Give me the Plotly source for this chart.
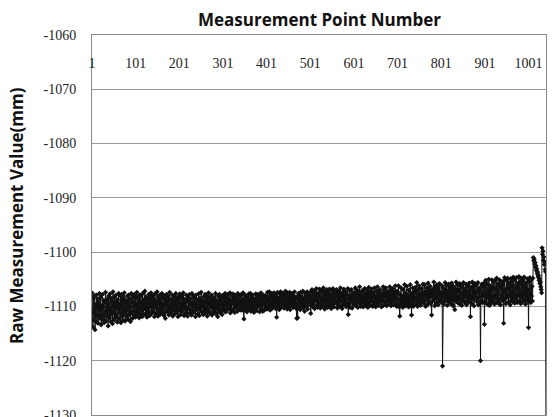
import plotly.graph_objects as go

values = [
-1107.5,-1111.2,-1113.8,-1108.4,-1110.9,-1112.6,-1108.0,-1114.3,-1109.7,-1111.8,-1107.9,-1112.9,-1110.2,-1108.6,-1113.1,-1109.4,-1111.5,-1107.6,-1112.2,-1110.6,
-1108.3,-1113.4,-1109.9,-1111.7,-1107.8,-1112.4,-1110.1,-1108.9,-1113.0,-1109.2,-1111.3,-1107.4,-1112.7,-1110.8,-1108.7,-1111.9,-1109.5,-1113.6,-1108.1,-1110.4,
-1112.1,-1107.7,-1110.7,-1112.8,-1108.5,-1111.4,-1109.1,-1113.2,-1107.3,-1111.0,-1109.8,-1112.5,-1108.2,-1110.3,-1112.0,-1107.9,-1111.6,-1109.3,-1112.9,-1108.8,
-1110.5,-1107.6,-1112.3,-1109.6,-1111.1,-1108.0,-1113.0,-1110.0,-1107.8,-1111.8,-1109.0,-1112.6,-1108.4,-1110.9,-1107.5,-1111.3,-1112.7,-1108.9,-1110.2,-1109.4,
-1111.9,-1108.1,-1110.6,-1112.4,-1107.9,-1109.7,-1111.5,-1108.6,-1112.8,-1110.1,-1107.6,-1111.0,-1109.2,-1112.2,-1108.3,-1110.8,-1111.7,-1107.8,-1109.9,-1112.0,
-1108.2,-1110.9,-1111.8,-1107.4,-1109.6,-1111.2,-1108.5,-1110.3,-1112.1,-1107.9,-1109.1,-1111.5,-1108.0,-1110.7,-1109.4,-1111.9,-1107.6,-1110.0,-1111.3,-1108.8,
-1110.4,-1107.2,-1109.8,-1111.6,-1108.3,-1110.6,-1112.0,-1108.7,-1109.3,-1111.1,-1107.8,-1110.2,-1111.7,-1108.4,-1109.9,-1107.5,-1111.4,-1109.0,-1110.8,-1108.1,
-1111.0,-1108.6,-1109.5,-1111.9,-1107.7,-1110.1,-1108.9,-1111.3,-1109.7,-1107.3,-1110.5,-1111.8,-1108.2,-1109.2,-1110.9,-1107.9,-1111.5,-1108.5,-1110.3,-1109.6,
-1107.6,-1110.8,-1111.2,-1108.4,-1109.8,-1111.7,-1108.0,-1110.0,-1112.2,-1108.7,-1109.4,-1107.8,-1111.0,-1109.1,-1110.6,-1108.3,-1111.6,-1109.9,-1107.4,-1110.4,
-1111.3,-1108.8,-1109.6,-1110.9,-1107.9,-1111.8,-1108.5,-1109.2,-1110.7,-1108.1,-1111.4,-1109.7,-1107.6,-1110.2,-1111.1,-1108.6,-1109.0,-1111.9,-1108.2,-1110.5,
-1109.3,-1107.7,-1110.8,-1111.5,-1108.4,-1109.9,-1111.0,-1108.0,-1110.3,-1107.5,-1109.6,-1111.7,-1108.7,-1110.1,-1109.2,-1111.3,-1107.9,-1110.6,-1108.9,-1111.8,
-1108.3,-1110.4,-1109.1,-1107.8,-1111.2,-1108.6,-1110.7,-1109.4,-1111.6,-1107.6,-1109.8,-1110.9,-1108.1,-1111.1,-1109.5,-1108.4,-1110.2,-1111.9,-1107.9,-1109.7,
-1110.6,-1108.8,-1111.4,-1109.0,-1107.7,-1110.3,-1111.7,-1108.5,-1109.6,-1110.8,-1107.4,-1111.0,-1108.9,-1110.0,-1109.3,-1111.5,-1108.2,-1109.9,-1110.7,-1107.8,
-1111.2,-1109.1,-1108.0,-1110.5,-1111.8,-1108.6,-1109.7,-1107.5,-1110.9,-1109.2,-1111.3,-1108.3,-1110.1,-1109.8,-1107.9,-1111.6,-1108.7,-1110.4,-1109.0,-1111.0,
-1108.4,-1110.7,-1109.5,-1107.6,-1111.4,-1108.9,-1110.2,-1109.3,-1111.9,-1108.1,-1109.8,-1110.6,-1107.8,-1111.1,-1109.0,-1108.5,-1110.8,-1109.6,-1111.5,-1108.2,
-1107.9,-1110.3,-1109.1,-1108.4,-1110.9,-1107.6,-1109.7,-1111.0,-1108.2,-1109.4,-1110.6,-1107.8,-1109.9,-1108.7,-1110.4,-1109.2,-1107.5,-1111.2,-1108.9,-1109.6,
-1110.8,-1108.1,-1109.3,-1107.7,-1110.5,-1109.0,-1108.5,-1111.1,-1107.9,-1109.8,-1110.2,-1108.3,-1109.5,-1110.9,-1107.6,-1109.1,-1108.8,-1110.6,-1109.7,-1108.0,
-1109.4,-1110.7,-1107.8,-1108.9,-1110.1,-1109.2,-1107.5,-1110.8,-1112.3,-1108.6,-1109.9,-1107.9,-1110.4,-1108.2,-1109.6,-1111.0,-1108.4,-1109.1,-1110.5,-1107.7,
-1108.8,-1110.2,-1109.5,-1107.6,-1110.9,-1108.1,-1109.3,-1110.6,-1107.9,-1109.8,-1108.5,-1111.1,-1108.9,-1109.0,-1110.3,-1107.7,-1109.6,-1108.3,-1110.8,-1109.2,
-1107.8,-1110.0,-1108.7,-1109.9,-1111.0,-1108.2,-1109.4,-1107.5,-1110.5,-1108.8,-1109.7,-1110.9,-1107.9,-1109.1,-1108.4,-1110.7,-1109.5,-1108.0,-1110.2,-1109.3,
-1108.3,-1110.5,-1107.4,-1108.9,-1110.1,-1108.6,-1107.3,-1109.6,-1110.7,-1108.0,-1109.3,-1109.8,-1107.6,-1108.7,-1110.3,-1108.2,-1109.5,-1107.5,-1110.0,-1108.4,
-1109.2,-1110.4,-1107.8,-1112.0,-1109.0,-1107.4,-1109.9,-1108.5,-1109.4,-1110.6,-1107.7,-1108.8,-1107.3,-1110.2,-1108.3,-1109.6,-1110.1,-1107.6,-1109.1,-1108.0,
-1110.3,-1108.6,-1108.9,-1107.2,-1109.8,-1108.1,-1109.5,-1110.5,-1107.5,-1108.7,-1108.3,-1110.0,-1109.2,-1107.4,-1110.6,-1107.9,-1109.0,-1109.7,-1108.4,-1107.6,
-1109.3,-1110.2,-1108.0,-1108.8,-1107.3,-1109.9,-1108.5,-1109.4,-1110.4,-1112.2,-1108.2,-1112.1,-1108.7,-1107.6,-1110.1,-1107.8,-1109.1,-1110.6,-1107.4,-1109.5,
-1108.3,-1109.8,-1108.9,-1107.2,-1110.3,-1108.6,-1109.2,-1110.9,-1107.5,-1109.6,-1108.1,-1110.0,-1108.8,-1107.3,-1110.5,-1107.9,-1109.4,-1109.7,-1108.4,-1109.0,
-1107.4,-1111.3,-1108.2,-1109.6,-1106.9,-1108.8,-1110.1,-1107.5,-1109.2,-1108.0,-1110.4,-1107.1,-1109.0,-1108.5,-1106.7,-1109.8,-1108.3,-1110.2,-1107.6,-1109.4,
-1108.1,-1106.8,-1109.7,-1110.3,-1107.3,-1108.9,-1109.5,-1107.0,-1110.0,-1108.4,-1106.6,-1109.3,-1107.8,-1110.5,-1108.7,-1107.2,-1109.9,-1108.0,-1106.9,-1109.1,
-1110.2,-1107.5,-1108.6,-1109.4,-1106.8,-1109.8,-1107.9,-1108.3,-1110.4,-1107.1,-1109.0,-1108.5,-1106.7,-1109.6,-1110.1,-1107.7,-1108.9,-1107.3,-1109.3,-1108.1,
-1106.9,-1109.5,-1110.3,-1107.6,-1108.8,-1109.9,-1107.2,-1108.4,-1110.0,-1106.6,-1109.1,-1107.9,-1108.6,-1110.4,-1107.4,-1109.7,-1108.2,-1106.8,-1109.2,-1108.0,
-1109.8,-1107.3,-1108.7,-1110.1,-1107.8,-1109.4,-1106.7,-1111.5,-1108.5,-1109.6,-1107.0,-1110.2,-1108.1,-1109.0,-1106.9,-1108.9,-1110.3,-1107.5,-1109.3,-1108.3,
-1107.5,-1109.7,-1108.2,-1106.6,-1109.8,-1107.8,-1109.3,-1107.0,-1108.6,-1110.2,-1107.4,-1108.9,-1108.4,-1106.4,-1109.5,-1107.7,-1110.0,-1108.0,-1107.2,-1109.1,
-1108.7,-1110.1,-1106.9,-1109.4,-1108.1,-1106.7,-1108.8,-1109.9,-1107.6,-1108.3,-1109.6,-1107.1,-1110.2,-1107.8,-1106.5,-1109.2,-1108.5,-1107.3,-1109.8,-1108.0,
-1109.0,-1106.8,-1108.4,-1110.0,-1107.5,-1109.3,-1107.9,-1106.6,-1109.7,-1108.2,-1110.1,-1107.2,-1108.7,-1109.5,-1106.4,-1108.1,-1109.8,-1107.4,-1108.9,-1108.5,
-1106.9,-1109.3,-1107.7,-1110.1,-1107.6,-1108.5,-1109.0,-1106.4,-1109.8,-1108.2,-1107.0,-1109.5,-1107.9,-1106.6,-1109.1,-1109.9,-1107.5,-1108.3,-1108.7,-1107.2,
-1109.6,-1107.9,-1106.4,-1109.3,-1107.7,-1109.9,-1107.0,-1108.5,-1109.1,-1106.7,-1108.0,-1109.7,-1107.3,-1108.8,-1108.2,-1106.2,-1109.5,-1107.6,-1110.0,-1107.2,
-1107.3,-1109.6,-1106.2,-1108.7,-1110.1,-1111.8,-1107.8,-1109.2,-1106.6,-1109.8,-1108.1,-1108.5,-1110.2,-1106.9,-1109.0,-1109.4,-1106.0,-1108.3,-1109.9,-1107.6,
-1108.7,-1106.3,-1109.6,-1107.9,-1109.1,-1110.1,-1107.0,-1108.5,-1109.9,-1106.0,-1108.1,-1109.4,-1111.6,-1107.6,-1108.8,-1106.6,-1110.0,-1107.3,-1108.3,-1109.7,
-1106.5,-1108.8,-1107.2,-1109.6,-1105.6,-1108.4,-1110.0,-1107.0,-1108.7,-1106.2,-1109.3,-1107.8,-1108.0,-1109.8,-1106.7,-1108.5,-1107.4,-1109.1,-1105.9,-1108.2,
-1109.4,-1107.6,-1106.0,-1108.9,-1110.0,-1107.3,-1108.1,-1106.6,-1109.7,-1107.9,-1105.7,-1108.6,-1109.2,-1107.0,-1108.3,-1106.3,-1109.5,-1107.5,-1111.6,-1108.0,
-1106.9,-1109.0,-1107.7,-1105.5,-1108.7,-1109.9,-1106.4,-1108.2,-1107.1,-1109.4,-1106.0,-1108.5,-1107.8,-1109.7,-1106.6,-1108.0,-1105.8,-1109.1,-1107.3,-1108.8,
-1107.5,-1109.3,-1106.2,-1121.0,-1108.1,-1106.7,-1109.6,-1107.4,-1108.4,-1105.6,-1109.0,-1107.0,-1108.8,-1106.1,-1109.8,-1107.7,-1108.3,-1105.9,-1109.2,-1107.2,
-1108.6,-1106.5,-1109.5,-1107.9,-1105.7,-1108.9,-1107.1,-1109.9,-1106.3,-1108.2,-1107.6,-1110.6,-1106.8,-1108.5,-1105.5,-1109.1,-1107.3,-1108.7,-1106.0,-1109.4,
-1107.0,-1108.3,-1105.8,-1109.6,-1107.5,-1106.4,-1108.8,-1109.8,-1106.1,-1107.8,-1109.0,-1105.6,-1108.4,-1107.2,-1109.3,-1106.7,-1108.0,-1105.9,-1109.7,-1107.4,
-1108.9,-1106.2,-1107.7,-1109.2,-1105.7,-1108.5,-1107.0,-1111.9,-1106.5,-1108.1,-1109.5,-1105.5,-1107.9,-1108.7,-1106.3,-1109.9,-1107.3,-1105.8,-1108.4,-1107.6,
-1106.0,-1109.1,-1107.4,-1108.6,-1105.6,-1109.7,-1106.8,-1108.2,-1107.1,-1109.4,-1120.0,-1106.4,-1108.9,-1105.9,-1107.7,-1109.3,-1106.1,-1108.0,-1105.7,-1113.3,
-1106.5,-1109.0,-1105.2,-1107.9,-1109.5,-1105.8,-1108.3,-1107.1,-1109.7,-1105.0,-1107.6,-1109.8,-1106.2,-1108.7,-1106.8,-1109.3,-1105.1,-1108.2,-1106.4,-1109.1,
-1105.5,-1108.0,-1109.6,-1105.2,-1108.4,-1106.8,-1109.3,-1104.8,-1107.7,-1109.1,-1105.9,-1107.2,-1109.5,-1105.1,-1108.7,-1106.5,-1109.7,-1105.4,-1107.9,-1108.3,
-1106.0,-1109.0,-1105.4,-1113.1,-1107.2,-1104.7,-1108.6,-1106.9,-1109.5,-1105.1,-1107.9,-1108.3,-1104.8,-1106.7,-1109.2,-1105.6,-1108.0,-1106.4,-1109.7,-1104.9,
-1107.4,-1108.8,-1105.3,-1109.1,-1106.2,-1104.6,-1108.4,-1107.1,-1109.4,-1105.0,-1107.8,-1108.7,-1104.7,-1106.5,-1109.3,-1105.8,-1108.1,-1106.8,-1104.5,-1109.0,
-1105.5,-1107.6,-1109.5,-1104.8,-1108.3,-1106.0,-1109.2,-1105.2,-1107.3,-1108.9,-1104.6,-1107.9,-1106.4,-1109.6,-1105.7,-1108.5,-1106.9,-1104.9,-1109.1,-1107.0,
-1113.9,-1105.4,-1108.6,-1104.7,-1107.8,-1109.3,-1105.1,-1108.1,-1106.3,-1109.0,-1104.8,-1101.0,-1101.6,-1101.3,-1102.2,-1101.9,-1102.8,-1102.5,-1103.4,-1103.1,
-1104.0,-1103.7,-1104.6,-1104.3,-1105.2,-1104.9,-1105.8,-1105.5,-1106.4,-1106.9,-1107.5,-1099.2,-1100.4,-1099.8,-1101.5,-1100.9,-1102.3,-1101.8,-1103.2,-1103.6,
-1135.0,
]

point_numbers = list(range(1, len(values) + 1))

x_tickvals = [1, 101, 201, 301, 401, 501, 601, 701, 801, 901, 1001]
x_ticktext = ["1", "101", "201", "301", "401", "501", "601", "701", "801", "901", "1001"]
y_tickvals = [-1060, -1070, -1080, -1090, -1100, -1110, -1120, -1130]
y_ticktext = ["-1060", "-1070", "-1080", "-1090", "-1100", "-1110", "-1120", "-1130"]

x_title = "Measurement Point Number"
y_title = "Raw Measurement Value(mm)"

fig = go.Figure()
fig.add_trace(go.Scatter(
    x=point_numbers, y=values, mode="lines+markers",
    line=dict(color="#111111", width=1),
    marker=dict(symbol="diamond", size=4, color="#111111"),
    showlegend=False,
))

tick_font = dict(family="Liberation Serif", size=14, color="#222222")
title_font = dict(family="Open Sans", size=17, color="#111111", weight=700)

fig.update_layout(
    width=556, height=417,
    margin=dict(l=92, r=10, t=35, b=2, autoexpand=False),
    paper_bgcolor="white", plot_bgcolor="white",
    xaxis=dict(
        range=[1, 1041], side="top", automargin=False,
        tickvals=x_tickvals, ticktext=x_ticktext,
        ticklabelposition="inside", ticklabelstandoff=23,
        ticklabeloverflow="allow",
        ticks="", tickfont=tick_font,
        showgrid=False, zeroline=False,
        showline=True, mirror=True, linecolor="#8a8a8a", linewidth=1,
    ),
    yaxis=dict(
        range=[-1130.01, -1059.99], tickvals=y_tickvals, ticktext=y_ticktext,
        automargin=False,
        ticks="", tickfont=tick_font, ticklabelstandoff=12,
        ticklabeloverflow="allow",
        showgrid=True, gridcolor="#9a9a9a", gridwidth=1,
        zeroline=False,
        showline=True, mirror=True, linecolor="#8a8a8a", linewidth=1,
    ),
    annotations=[
        dict(text=x_title, xref="paper", yref="paper", x=0.5, y=1 + 15 / 380,
             xanchor="center", yanchor="middle", showarrow=False, font=title_font),
        dict(text=y_title, xref="paper", yref="paper", x=(16 - 92) / 454, y=(415 - 216) / 380,
             xanchor="center", yanchor="middle", textangle=-90, showarrow=False, font=title_font),
    ],
)

fig.write_html("out.html", config={"displayModeBar": False},
               post_script="document.body.style.margin='0';")
